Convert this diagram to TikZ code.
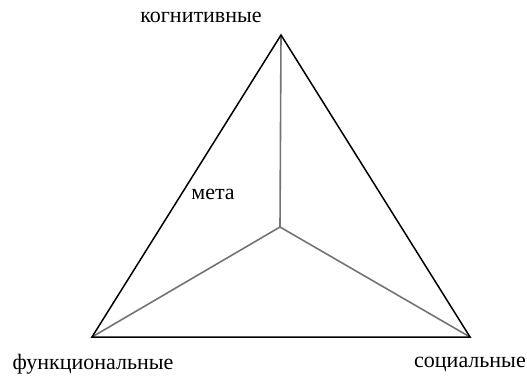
\documentclass[tikz,border=0pt]{standalone}
\usepackage{fontspec}
\setmainfont{Liberation Serif}
\begin{document}
\begin{tikzpicture}[x=1pt,y=-1pt,
  outer/.style={draw=black,line width=1.5pt,line join=miter},
  inner/.style={draw=black!55,line width=1.6pt},
  lbl/.style={font=\fontsize{22}{24}\selectfont,inner sep=0pt}]
\useasboundingbox (0,0) rectangle (527,381);
\coordinate (A) at (281,35);
\coordinate (B) at (92,337);
\coordinate (C) at (470,337);
\coordinate (O) at (280,227);
\draw[inner] (A) -- (O);
\draw[inner] (B) -- (O) -- (C);
\draw[outer] (A) -- (B) -- (C) -- cycle;
\node[lbl] (k) at (201,17) {когнитивные};
\node[lbl] (m) at (213,194) {мета};
\node[lbl] (f) at (93,364) {функциональные};
\node[lbl] (s) at (470,364) {социальные};
\end{tikzpicture}
\end{document}
